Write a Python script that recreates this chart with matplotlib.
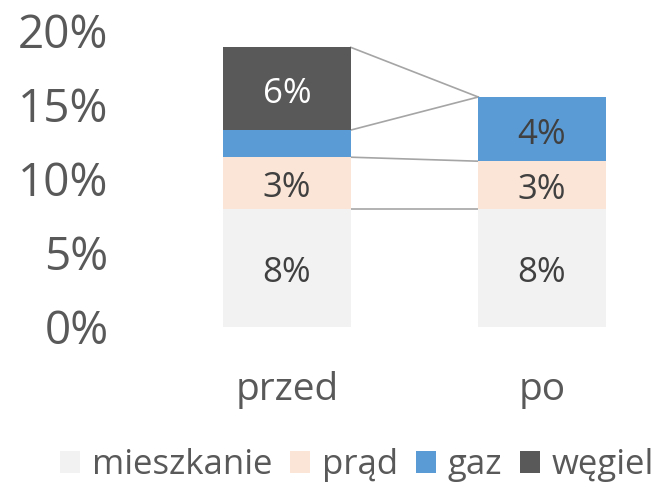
import matplotlib
matplotlib.use("Agg")
import matplotlib.pyplot as plt
import numpy as np
from matplotlib.patches import Patch

plt.rcParams['font.family'] = ['Open Sans', 'DejaVu Sans']

categories = ["przed", "po"]
series_names = ["mieszkanie", "prąd", "gaz", "węgiel"]
mieszkanie = [7.95, 7.95]
prad = [3.47, 3.2]
gaz = [1.83, 4.33]
wegiel = [5.58, 0.0]
y_ticks = [0, 5, 10, 15, 20]
y_tick_labels = ["0%", "5%", "10%", "15%", "20%"]

colors = ["#F2F2F2", "#FBE5D6", "#5B9BD5", "#595959"]
label_colors = ["#404040", "#404040", "#404040", "#FFFFFF"]
text_color = "#595959"

W, H = 664, 486
fig = plt.figure(figsize=(W / 100, H / 100), dpi=100)

ax_left_px, ax_right_px = 160, 664
y0_px, y20_px = 326.5, 30
ax = fig.add_axes([ax_left_px / W, (H - y0_px) / H,
                   (ax_right_px - ax_left_px) / W, (y0_px - y20_px) / H])

x = np.arange(len(categories))
bar_w = 0.5
data = [mieszkanie, prad, gaz, wegiel]
bottom = np.zeros(len(categories))
tops = []
for vals, col, lc in zip(data, colors, label_colors):
    vals = np.array(vals)
    ax.bar(x, vals, bar_w, bottom=bottom, color=col, edgecolor='none', zorder=2)
    for xi, v, b in zip(x, vals, bottom):
        if v >= 2.5:
            ax.annotate(f"{round(v)}%", xy=(xi, b + v / 2), xytext=(0, -4),
                        textcoords='offset points', ha='center', va='center',
                        fontsize=25, color=lc, zorder=3)
    bottom = bottom + vals
    tops.append(bottom.copy())

# series connector lines
for t in tops:
    ax.plot([x[0] + bar_w / 2, x[1] - bar_w / 2], [t[0], t[1]],
            color="#A5A5A5", lw=1.2, zorder=1)

px_per_cat = 542 - 287
ax.set_xlim(-(287 - ax_left_px) / px_per_cat, (ax_right_px - 287) / px_per_cat)
ax.set_ylim(0, 20)
ax.set_yticks(y_ticks)
ax.set_yticklabels(y_tick_labels)
ax.tick_params(axis='y', length=0, pad=37, labelsize=33, labelcolor=text_color)
ax.set_xticks([])
for s in ax.spines.values():
    s.set_visible(False)

for xi, c in zip(x, categories):
    ax.annotate(c, xy=(xi, 0), xycoords='data', xytext=(0, -(390 - y0_px) * 0.72),
                textcoords='offset points', ha='center', va='center',
                fontsize=28, color=text_color)

handles = [Patch(facecolor=c, edgecolor='none') for c in colors]
fig.legend(handles, series_names, loc='center', bbox_to_anchor=(357 / W, (H - 465) / H),
           ncol=4, frameon=False, fontsize=25, labelcolor=text_color,
           handlelength=0.58, handleheight=0.58, handletextpad=0.35,
           columnspacing=0.5, borderpad=0)

fig.savefig("out.png", dpi=100)
